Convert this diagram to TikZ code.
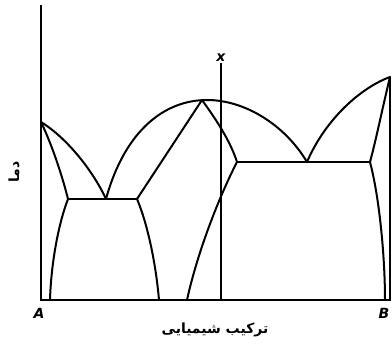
\documentclass[tikz,border=0pt]{standalone}
\usepackage{fontspec}
\usepackage{tikz}
\newfontfamily\arabicfont[Script=Arabic]{DejaVu Sans}
\newfontfamily\labelfont{DejaVu Sans}
\TeXXeTstate=1

\begin{document}
\begin{tikzpicture}[
x=1pt, y=-1pt,
phase/.style={line width=2pt, line join=round, line cap=round},
axis/.style={line width=2pt},
endlabel/.style={font=\labelfont\bfseries\itshape\fontsize{14}{14}\selectfont, inner sep=0pt}
]
\useasboundingbox (0,0) rectangle (392,345);
% key points
\coordinate (Atop) at (41,5);
\coordinate (Aorig) at (41,300);
\coordinate (Borig) at (390,300);
\coordinate (Amelt) at (41,122);
\coordinate (Bmelt) at (390,77);
\coordinate (eutL) at (106,199);
\coordinate (eutR) at (307,162);
\coordinate (solL) at (68,199);
\coordinate (solR) at (370,162);
\coordinate (cmpL) at (137,199);
\coordinate (cmpR) at (237,162);
\coordinate (peak) at (202,100);
\coordinate (top) at (207,100);
\coordinate (xtop) at (221,63);
\coordinate (xbot) at (221,300);
% axes
\draw[axis] (Atop) -- (Aorig) -- (Borig) -- (Bmelt);
% left side
\draw[phase] (Amelt) .. controls (70,140) and (95,175) .. (eutL);
\draw[phase] (Amelt) .. controls (52,145) and (62,175) .. (solL);
\draw[phase] (solL) .. controls (58,225) and (51,265) .. (50,300);
\draw[phase] (solL) -- (cmpL);
% liquidus arc
\draw[phase] (eutL) .. controls (125,130) and (165,100) .. (top)
  .. controls (245,100) and (285,125) .. (eutR);
% compound
\draw[phase] (cmpL) -- (peak);
\draw[phase] (peak) .. controls (215,118) and (230,140) .. (cmpR);
\draw[phase] (cmpL) .. controls (148,225) and (156,265) .. (159,300);
\draw[phase] (cmpR) .. controls (220,195) and (198,250) .. (187,300);
% right side
\draw[phase] (cmpR) -- (solR);
\draw[phase] (eutR) .. controls (325,120) and (360,88) .. (Bmelt);
\draw[phase] (Bmelt) .. controls (382,110) and (376,140) .. (solR);
\draw[phase] (solR) .. controls (380,200) and (385,260) .. (385,300);
% composition x
\draw[axis] (xtop) -- (xbot);
\node[endlabel, above=1pt] (xlab) at (xtop) {x};
% labels
\node[endlabel] (alab) at (39,313) {A};
\node[endlabel] (blab) at (384,313) {B};
\node[rotate=90] (ylab) at (14,172) {\arabicfont\bfseries\fontsize{14}{14}\selectfont\beginR دما\endR};
\node (comp) at (215,330) {\arabicfont\bfseries\fontsize{14}{14}\selectfont\beginR ترکیب شیمیایی\endR};
\end{tikzpicture}
\end{document}
